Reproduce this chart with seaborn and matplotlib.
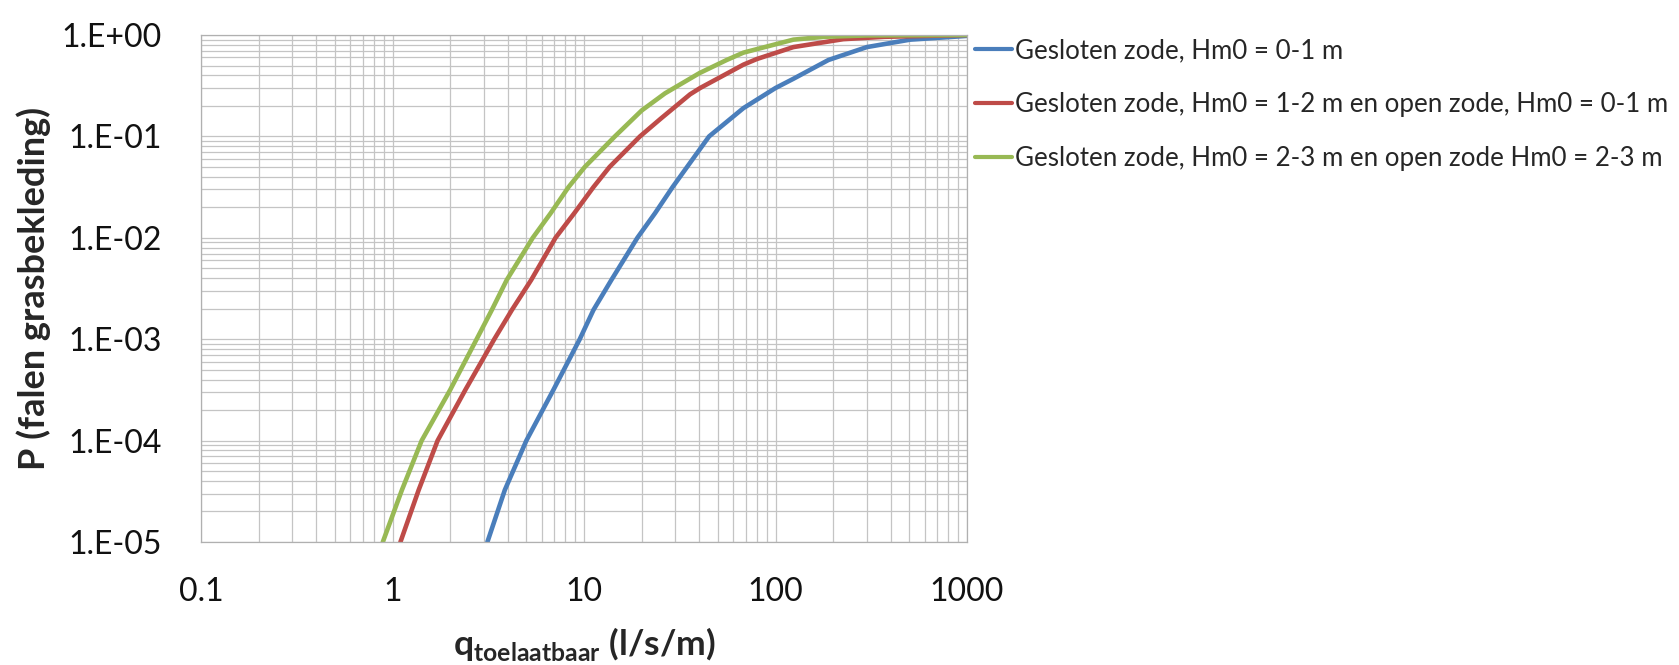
import numpy as np
import pandas as pd
import matplotlib
matplotlib.use("Agg")
import matplotlib.pyplot as plt
from matplotlib.ticker import FixedLocator, FuncFormatter, LogLocator, NullFormatter
import seaborn as sns

# ---- data ----
series_names = [
    "Gesloten zode, Hm0 = 0-1 m",
    "Gesloten zode, Hm0 = 1-2 m en open zode, Hm0 = 0-1 m",
    "Gesloten zode, Hm0 = 2-3 m en open zode Hm0 = 2-3 m",
]
q_blue = [3.13, 3.86, 5.0, 6.92, 9.5, 11.2, 13.9, 19.0, 23.5, 29.0, 45.0, 68.0, 100.0, 124.0, 189.0, 300.0, 505.0, 1000.0]
p_blue = [1e-5, 3.26e-5, 1e-4, 3.16e-4, 1e-3, 1.94e-3, 3.84e-3, 1e-2, 1.75e-2, 3.16e-2, 0.10, 0.19, 0.30, 0.37, 0.567, 0.76, 0.90, 0.98]

q_red = [1.10, 1.37, 1.72, 2.4, 3.4, 4.2, 5.3, 7.1, 8.9, 11.2, 13.6, 19.6, 25.2, 35.8, 40.4, 68.0, 80.0, 124.0, 226.0, 370.0, 1000.0]
p_red = [1e-5, 3.26e-5, 1e-4, 3.16e-4, 1e-3, 1.94e-3, 3.84e-3, 1e-2, 1.75e-2, 3.16e-2, 5.0e-2, 0.10, 0.15, 0.26, 0.30, 0.51, 0.58, 0.76, 0.91, 0.96, 1.0]

q_green = [0.89, 1.12, 1.42, 2.0, 2.75, 3.3, 3.95, 5.4, 6.7, 8.3, 10.1, 14.5, 20.0, 26.5, 40.0, 55.6, 68.0, 124.0, 180.0, 300.0, 1000.0]
p_green = [1e-5, 3.26e-5, 1e-4, 3.16e-4, 1e-3, 1.94e-3, 3.84e-3, 1e-2, 1.75e-2, 3.16e-2, 5.0e-2, 0.10, 0.18, 0.266, 0.42, 0.567, 0.67, 0.90, 0.96, 0.99, 1.0]

x_tick_values = [0.1, 1, 10, 100, 1000]
x_tick_labels = ["0.1", "1", "10", "100", "1000"]
y_tick_values = [1e-5, 1e-4, 1e-3, 1e-2, 1e-1, 1e0]
y_tick_labels = ["1.E-05", "1.E-04", "1.E-03", "1.E-02", "1.E-01", "1.E+00"]

colors = ["#4A7EBB", "#BE4B48", "#98B954"]

df = pd.concat([
    pd.DataFrame({"q": q_blue, "P": p_blue, "serie": series_names[0]}),
    pd.DataFrame({"q": q_red, "P": p_red, "serie": series_names[1]}),
    pd.DataFrame({"q": q_green, "P": p_green, "serie": series_names[2]}),
], ignore_index=True)

sns.set_style("white")
plt.rcParams["font.family"] = ["Lato", "DejaVu Sans"]
plt.rcParams["mathtext.fontset"] = "custom"
plt.rcParams["mathtext.rm"] = "Lato"
plt.rcParams["mathtext.bf"] = "Lato:bold"

fig = plt.figure(figsize=(16.79, 6.65), dpi=100)
ax = fig.add_axes([201 / 1679, 1 - 542 / 665, (967 - 201) / 1679, (542 - 35) / 665])

sns.lineplot(data=df, x="q", y="P", hue="serie", hue_order=series_names,
             palette=dict(zip(series_names, colors)), sort=False, estimator=None,
             units="serie", linewidth=3.3, ax=ax, legend=True)

ax.set_xscale("log")
ax.set_yscale("log")
ax.set_xlim(0.1, 1000)
ax.set_ylim(1e-5, 1)

ax.xaxis.set_major_locator(FixedLocator(x_tick_values))
ax.xaxis.set_major_formatter(FuncFormatter(lambda v, p: x_tick_labels[x_tick_values.index(v)] if v in x_tick_values else ""))
ax.yaxis.set_major_locator(FixedLocator(y_tick_values))
ax.yaxis.set_major_formatter(FuncFormatter(lambda v, p: y_tick_labels[int(round(np.log10(v))) + 5]))
ax.xaxis.set_minor_locator(LogLocator(base=10, subs=np.arange(2, 10), numticks=20))
ax.yaxis.set_minor_locator(LogLocator(base=10, subs=np.arange(2, 10), numticks=20))
ax.xaxis.set_minor_formatter(NullFormatter())
ax.yaxis.set_minor_formatter(NullFormatter())

ax.grid(True, which="both", color="#C4C4C4", linewidth=0.9)
ax.set_axisbelow(True)
for s in ax.spines.values():
    s.set_color("#B0B0B0")
    s.set_linewidth(0.9)

ax.tick_params(axis="both", which="major", direction="out", length=9, width=0.9,
               color="#A0A0A0", labelsize=23, labelcolor="#111111")
ax.tick_params(axis="y", which="major", pad=19)
ax.tick_params(axis="x", which="major", pad=16)
ax.tick_params(axis="both", which="minor", length=0)

ax.set_ylabel("P (falen grasbekleding)", fontsize=26, fontweight="bold", labelpad=8)
ax.set_xlabel(r"$\mathbf{q}_{\mathbf{toelaatbaar}}$ (l/s/m)", fontsize=25.5, fontweight="bold", labelpad=13)

leg = ax.legend(loc="upper left", bbox_to_anchor=(975 / 1679, 1 - 38 / 665),
                bbox_transform=fig.transFigure, frameon=False, fontsize=18.6,
                handlelength=1.45, handletextpad=0.1, labelspacing=1.13,
                borderpad=0, borderaxespad=0, title=None)
for line in leg.get_lines():
    line.set_linewidth(3)

fig.savefig("out.png", dpi=100)
